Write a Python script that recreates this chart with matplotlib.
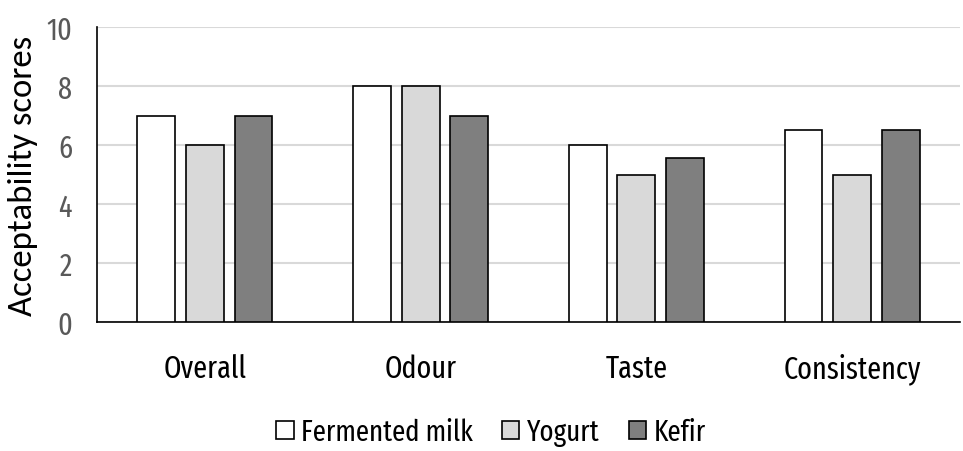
import matplotlib.pyplot as plt
import numpy as np

categories = ["Overall", "Odour", "Taste", "Consistency"]
series_names = ["Fermented milk", "Yogurt", "Kefir"]
fermented_milk = [7, 8, 6, 6.5]
yogurt = [6, 8, 5, 5]
kefir = [7, 7, 5.55, 6.5]
colors = ["#ffffff", "#d9d9d9", "#7f7f7f"]

# narrow humanist face, close to the squeezed Calibri of the original
plt.rcParams["font.family"] = ["Fira Sans Extra Condensed", "DejaVu Sans"]

fig = plt.figure(figsize=(9.63, 4.52), dpi=100)
ax = fig.add_axes([97 / 963, 1 - 323 / 452, 863 / 963, 295 / 452])

x = np.arange(len(categories))
step = 0.225
width = 0.175
for i, (vals, name) in enumerate(zip([fermented_milk, yogurt, kefir], series_names)):
    ax.bar(x + (i - 1) * step, vals, width, color=colors[i], edgecolor="black",
           linewidth=1.2, label=name, zorder=3)

ax.set_xlim(-0.5, len(categories) - 0.5)
ax.set_ylim(0, 10)
ax.set_yticks(range(0, 11, 2))
ax.yaxis.grid(True, color="#d9d9d9", linewidth=1.5, zorder=0)
ax.set_axisbelow(True)
for s in ["top", "right"]:
    ax.spines[s].set_visible(False)
ax.spines["left"].set_linewidth(1.2)
ax.spines["bottom"].set_linewidth(1.2)
ax.tick_params(axis="both", length=0, labelsize=22, colors="#595959")
ax.tick_params(axis="x", pad=22, labelcolor="black")
ax.tick_params(axis="y", pad=18)
ax.set_xticks(x)
ax.set_xticklabels(categories)
ax.set_ylabel("Acceptability scores", fontsize=25, family=["Carlito", "DejaVu Sans"],
              color="black", labelpad=6)

fig.legend(loc="center", bbox_to_anchor=(491 / 963, 1 - 433 / 452), ncol=3, frameon=False,
           fontsize=21, handlelength=0.6, handleheight=0.6, handletextpad=0.25,
           columnspacing=1.0)

fig.savefig("out.png", dpi=100)
